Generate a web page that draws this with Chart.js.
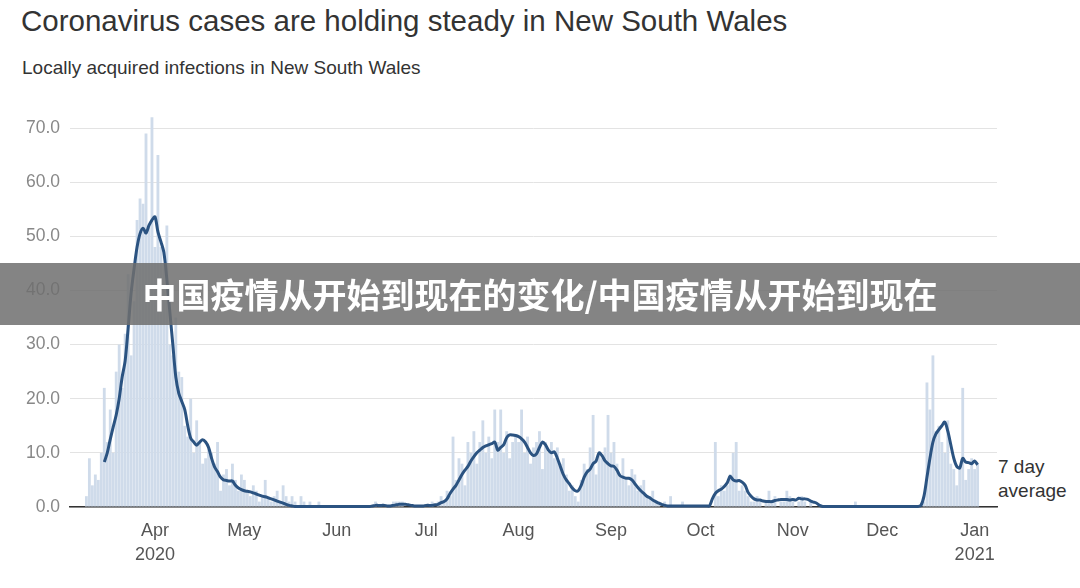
<!DOCTYPE html>
<html><head><meta charset="utf-8">
<script src="https://cdn.jsdelivr.net/npm/chart.js@4"></script>
<style>
body{margin:0;width:1080px;height:588px;overflow:hidden;background:#fff;font-family:"Liberation Sans",Arial,sans-serif;position:relative}
#t{position:absolute;left:21px;top:4px;font-size:29.5px;color:#333}
#s{position:absolute;left:22px;top:57px;font-size:19px;color:#333}
#lg{position:absolute;left:998px;top:455px;font-size:19px;color:#333;line-height:24px}
#band{position:absolute;left:0;top:263px;width:1080px;height:62px;background:rgba(110,110,110,0.85);color:#fff;font-family:"Noto Sans CJK SC";font-weight:bold;font-size:34px;text-align:center;line-height:62px}
canvas{position:absolute;left:0;top:0}
</style></head><body>
<div id="t">Coronavirus cases are holding steady in New South Wales</div>
<div id="s">Locally acquired infections in New South Wales</div>
<div id="lg">7 day<br>average</div>
<canvas id="c" width="1080" height="588"></canvas>
<div id="band">中国疫情从开始到现在的变化/中国疫情从开始到现在</div>
<script>
// daily cases (Mar from the 9th)
const marDaily=[2,9,4,6,5,10,22,12,18,10,25,30,22,32,43,28,38,53,57,56,69,52,72];
const aprDaily=[48,65,48,45,52,30,28,35,25,24,15,13,20,10,16,12,8,9,11,10,8,12,3,6,7,4,8,5,3,6];
const mayDaily=[5,3,2,4,3,1,2,5,2,1,2,3,1,4,2,1,2,1,0,2,1,0,1,0,0,1,0,0,0,0,0];
const junDaily=[0,0,0,0,0,0,0,0,0,0,0,0,0,1,0,0,0,0,0,1,1,1,1,0,0,0,0,0,0,0];
const julDaily=[0,0,1,0,1,2,1,3,2,13,5,9,8,4,12,10,14,8,12,16,10,13,9,18,12,18,10,14,9,12,13];
const augDaily=[12,18,10,13,8,11,12,14,7,12,10,12,9,11,8,9,6,3,4,2,1,5,8,7,11,17,6,10,9,11,17];
const sepDaily=[10,12,8,6,9,5,4,7,6,3,4,5,2,2,3,1,1,0,1,0,2,0,0,0,1,0,0,0,0,0];
const octDaily=[0,0,0,0,0,12,2,4,3,4,6,10,12,3,4,3,2,1,1,2,1,0,1,3,1,2,0,1,1,3,2];
const novDaily=[1,0,1,2,1,0,1,0,0,0,0,0,0,0,0,0,0,0,0,0,0,1,0,0,0,0,0,0,0,0];
const decDaily=[0,0,0,0,0,0,0,0,0,0,0,0,0,0,1,23,18,28,14,15,12,10,16,8,7,4,7,22,5,7,9];
const janDaily=[7,8];
// 7 day average (Mar from the 15th)
const marAvg=[8.3,10,12.5,14.8,17,20,24,27,33,39.5,44,48,50.5,51.5,50.6,52,53];
const aprAvg=[53.6,50.8,49,47,42,36,30,24,21,19.5,18,15,12.7,12,11.4,12,12.4,12,11,9,7.4,6.5,5.5,5,4.9,4.8,4.8,4,3.5,3.2];
const mayAvg=[3,2.9,2.8,2.6,2.4,2.2,2,1.9,1.7,1.5,1.3,1.1,0.9,0.7,0.5,0.3,0.2,0.1,0.1,0.1,0.1,0.1,0.1,0.1,0.1,0.1,0.1,0.1,0.1,0.1,0.1];
const junAvg=[0.1,0.1,0.1,0.1,0.1,0.1,0.1,0.1,0.1,0.1,0.1,0.1,0.2,0.3,0.3,0.3,0.3,0.2,0.2,0.3,0.4,0.5,0.5,0.5,0.4,0.3,0.2,0.2,0.2,0.2];
const julAvg=[0.3,0.3,0.3,0.4,0.5,0.8,1,1.5,2.5,3.3,4,5,6,6.8,7.5,8.5,9.3,10,10.5,11,11.3,11.5,11.7,12,10.5,11,11.5,12.8,13.3,13.3,13.2];
const augAvg=[13,12.6,12,11,10,9.5,9.8,11,12,11.5,10.5,10,10.2,9,7.5,6,5,4.3,3.5,3,3,4,5.5,6.5,7,8,8.5,10,9.5,8.5,8];
const sepAvg=[7.6,7.5,6.8,5.8,5.5,5.3,5.3,5,4.3,3.6,3,2.5,2,1.7,1.3,1,0.7,0.5,0.3,0.2,0.2,0.2,0.2,0.2,0.2,0.2,0.2,0.2,0.2,0.2];
const octAvg=[0.2,0.2,0.2,0.2,1.5,2.5,3,3.3,3.8,4.5,5.7,5,4.8,4.9,4.6,4,2.7,2,1.5,1.3,1.3,1.1,1,1,1,1.2,1.3,1.4,1.4,1.4,1.3];
const novAvg=[1.4,1.3,1.6,1.5,1.5,1.4,1.1,0.9,0.7,0.3,0.1,0.1,0.1,0.1,0.1,0.1,0.1,0.1,0.1,0.1,0.1,0.1,0.1,0.1,0.1,0.1,0.1,0.1,0.1,0.1];
const decAvg=[0.1,0.1,0.1,0.1,0.1,0.1,0.1,0.1,0.1,0.1,0.1,0.1,0.1,0.3,2,5.5,9,12,13.5,14.3,15,15.7,14,11.5,9,7.5,7.2,9,8.3,8.2,8];
const janAvg=[8.5,7.8];
const yTicks=[0,10,20,30,40,50,60,70];

const MON=['Jan','Feb','Mar','Apr','May','Jun','Jul','Aug','Sep','Oct','Nov','Dec'];
const labels=[];const d=new Date(2020,2,4);
for(let i=0;i<311;i++){labels.push([d.getFullYear(),d.getMonth(),d.getDate()]);d.setDate(d.getDate()+1);}
const nulls=n=>Array(n).fill(null);
const daily=[...nulls(5),...marDaily,...aprDaily,...mayDaily,...junDaily,...julDaily,...augDaily,...sepDaily,...octDaily,...novDaily,...decDaily,...janDaily];
const avg=[...nulls(11),...marAvg,...aprAvg,...mayAvg,...junAvg,...julAvg,...augAvg,...sepAvg,...octAvg,...novAvg,...decAvg,...janAvg];
while(daily.length<311)daily.push(null);while(avg.length<311)avg.push(null);

new Chart(document.getElementById('c'),{
 data:{labels:labels.map((l,i)=>i),datasets:[
  {type:'line',data:avg,borderColor:'#2b5381',borderWidth:3,pointRadius:0,tension:0.3,spanGaps:false,clip:false},
  {type:'bar',data:daily,backgroundColor:'#cfdbea',barPercentage:0.95,categoryPercentage:1,clip:false}
 ]},
 options:{responsive:false,animation:false,events:[],
  layout:{padding:{top:128,right:83,left:0,bottom:0}},
  plugins:{legend:{display:false},tooltip:{enabled:false}},
  scales:{
   x:{type:'category',grid:{display:false,drawTicks:false},border:{color:'#333',width:1.5},
      afterFit:s=>{s.height=81},
      ticks:{autoSkip:false,maxRotation:0,padding:12,color:'#555',font:{size:18,family:'Liberation Sans',lineHeight:1.35},
        callback:(v,i)=>{const l=labels[i];if(l[2]!==1)return null;const m=MON[l[1]];
          if(l[1]===3&&l[0]===2020)return [m,'2020'];if(l[1]===0)return [m,'2021'];return m;}}},
   y:{min:0,max:70,afterFit:s=>{s.width=70},border:{display:false},
      grid:{color:'#e3e3e3',drawTicks:false},
      afterBuildTicks:s=>{s.ticks=yTicks.map(v=>({value:v}))},
      ticks:{padding:10,color:'#888',font:{size:17.5,family:'Liberation Sans'},callback:v=>v.toFixed(1)}}
  }}
});
</script></body></html>
